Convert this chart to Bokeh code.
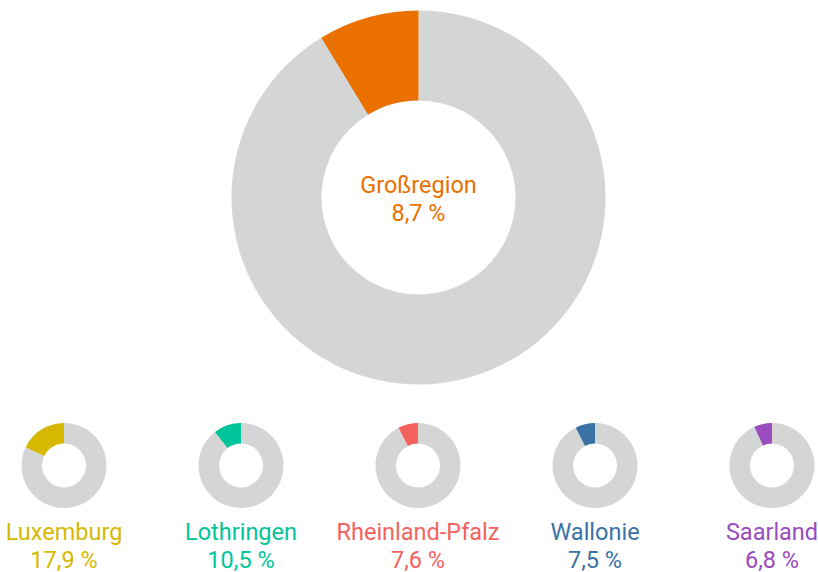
import math
from bokeh.plotting import figure
from bokeh.models import Range1d
from bokeh.core.properties import value
from bokeh.embed import file_html
from bokeh.resources import INLINE

# ---- data ----
total_label = "Großregion"
total_value = 8.7
regions = ["Luxemburg", "Lothringen", "Rheinland-Pfalz", "Wallonie", "Saarland"]
region_values = [17.9, 10.5, 7.6, 7.5, 6.8]
region_colors = ["#D6B800", "#00C49A", "#F4625E", "#3A72A6", "#9A4BBE"]
total_color = "#EA7000"
rest_color = "#D4D5D5"

W, H = 818, 572
p = figure(width=W, height=H, output_backend="svg", toolbar_location=None,
           x_range=Range1d(0, W), y_range=Range1d(0, H), min_border=0)
p.axis.visible = False
p.grid.visible = False
p.outline_line_color = None
p.background_fill_color = "white"
p.border_fill_color = "white"

def fmt(v):
    return f"{v:.1f}".replace(".", ",") + " %"

def donut(cx, cy, r_in, r_out, frac, color):
    a0 = math.pi / 2
    a1 = a0 + frac * 2 * math.pi
    p.annular_wedge(x=[cx], y=[cy], inner_radius=r_in, outer_radius=r_out,
                    start_angle=a1, end_angle=a0 + 2 * math.pi, direction="anticlock",
                    fill_color=rest_color, line_color=None)
    p.annular_wedge(x=[cx], y=[cy], inner_radius=r_in, outer_radius=r_out,
                    start_angle=a0, end_angle=a1, direction="anticlock",
                    fill_color=color, line_color=None)

# big donut
donut(418, 375, 97, 187, total_value / 100, total_color)
p.text(x=[418, 418], y=[388, 360], text=[total_label, fmt(total_value)],
       text_align="center", text_baseline="alphabetic",
       text_font=value("Roboto"), text_font_size="23.5px", text_color=total_color)

# small donuts
xs = [63.5 + 177 * i for i in range(len(regions))]
for i, (name, v, c) in enumerate(zip(regions, region_values, region_colors)):
    donut(xs[i], 107, 22, 42.5, v / 100, c)
    p.text(x=[xs[i]] * 2, y=[41, 13], text=[name, fmt(v)],
           text_align="center", text_baseline="alphabetic",
           text_font=value("Roboto"), text_font_size="23.5px", text_color=c)

open("out.html", "w").write(file_html(p, INLINE))
